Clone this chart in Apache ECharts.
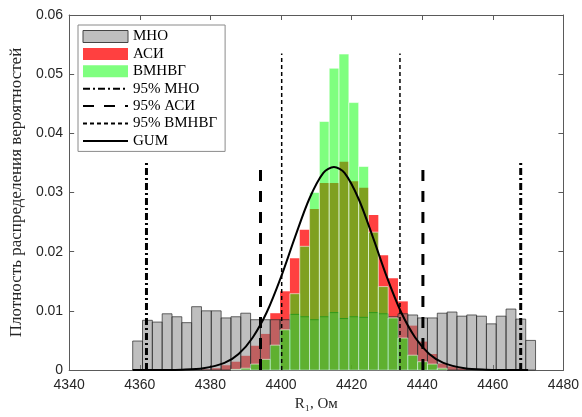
<!DOCTYPE html>
<html><head><meta charset="utf-8">
<script src="https://cdn.jsdelivr.net/npm/echarts@6/dist/echarts.min.js"></script>
<style>html,body{margin:0;padding:0;background:#fff}#c{width:582px;height:417px}</style>
</head><body><div id="c"></div>
<script>
// ---- data ----
const binStart = 4358.0;   // left edge of first histogram bin (Ом)
const binWidth = 2.783;    // bin width (Ом)
const mnoPdf = [0.0049,0.0084,0.0081,0.0095,0.0090,0.0080,0.0107,0.0100,0.0100,0.0088,
  0.0090,0.0096,0.0085,0.0085,0.0085,0.0085,0.0094,0.0090,0.0085,0.0090,
  0.0097,0.0087,0.0090,0.0089,0.0097,0.0095,0.0090,0.0095,0.0093,0.0088,
  0.0088,0.0096,0.0098,0.0091,0.0093,0.0091,0.0078,0.0091,0.0103,0.0086,0.0050];
const asiPdf = [0,0,0,0,0,0,0,0.0001,0.0003,0.0008,
  0.0014,0.0024,0.0041,0.0061,0.0096,0.0133,0.0189,0.0237,0.0272,0.0316,
  0.0316,0.0352,0.0319,0.0308,0.0262,0.0194,0.0155,0.0116,0.0075,0.0048,
  0.0027,0.0011,0.0006,0.0003,0.0001,0,0,0,0,0,0];
const vmnvgPdf = [0,0,0,0,0,0,0,0,0,0,
  0.0001,0.0003,0.0010,0.0018,0.0042,0.0068,0.0129,0.0209,0.0300,0.0420,
  0.0510,0.0534,0.0452,0.0344,0.0233,0.0141,0.0088,0.0054,0.0025,0.0014,
  0.0010,0.0003,0,0,0,0,0,0,0,0,0];
const gumX = [4358,4366,4372,4378,4384,4388,4392,4396,4400,4404,4408,4412,4415,4418,4422,4426,4430,4434,4438,4442,4446,4452,4458,4464,4470];
const gumY = [0,0.00001,0.00006,0.0003,0.0012,0.0027,0.0055,0.0098,0.0157,0.0225,0.0289,0.0333,0.0343,0.0333,0.0289,0.0225,0.0157,0.0098,0.0055,0.0027,0.0012,0.0003,0.00006,0.00001,0];
const ci95MNO = [4361.9, 4467.9];   const ci95MNOTop = 0.0354;
const ci95ASI = [4394.2, 4440.2];   const ci95ASITop = 0.0343;
const ci95VMNVG = [4400.2, 4433.7]; const ci95VMNVGTop = 0.0535;
const xTicks = {min:4340, max:4480, step:20};
const yTicks = {min:0, max:0.06, step:0.01};
const names = ['МНО','АСИ','ВМНВГ','95% МНО','95% АСИ','95% ВМНВГ','GUM'];

// ---- styles ----
const cGray = 'rgba(128,128,128,0.5)';
const cRed = 'rgba(255,0,0,0.75)';
const cGreen = 'rgba(0,255,0,0.5)';

function hist(name, vals, fill, stroke) {
  return {
    type:'custom', name, animation:false, silent:true,
    data: vals.map((v,i)=>[binStart+i*binWidth, binStart+(i+1)*binWidth, v]),
    encode:{x:[0,1], y:2},
    itemStyle:{color:fill},
    renderItem(params, api){
      const v = api.value(2);
      if (!v) return null;
      const p0 = api.coord([api.value(0), v]);
      const p1 = api.coord([api.value(1), 0]);
      return {type:'rect', shape:{x:p0[0], y:p0[1], width:p1[0]-p0[0], height:p1[1]-p0[1]},
        style:{fill, stroke: stroke||null, lineWidth: stroke?1:0}};
    }
  };
}
function vline(name, x, top, ls) {
  return {type:'line', name, symbol:'none', animation:false, silent:true,
    data:[[x,0],[x,top]], lineStyle:ls, itemStyle:{color:'#000'}, z:5};
}
const lsMNO = {color:'#000', width:3, type:[7,3,2,3]};
const lsASI = {color:'#000', width:3, type:[11,10]};
const lsVM = {color:'#000', width:1.5, type:[4,3]};

const series = [
  hist('АСИ', asiPdf, cRed, null),
  hist('МНО', mnoPdf, cGray, 'rgba(40,40,40,0.7)'),
  hist('ВМНВГ', vmnvgPdf, cGreen, 'rgba(255,255,255,0.55)'),
  vline('95% МНО', ci95MNO[0], ci95MNOTop, lsMNO),
  vline('95% МНО', ci95MNO[1], ci95MNOTop, lsMNO),
  vline('95% АСИ', ci95ASI[0], ci95ASITop, lsASI),
  vline('95% АСИ', ci95ASI[1], ci95ASITop, lsASI),
  vline('95% ВМНВГ', ci95VMNVG[0], ci95VMNVGTop, lsVM),
  vline('95% ВМНВГ', ci95VMNVG[1], ci95VMNVGTop, lsVM),
  {type:'line', name:'GUM', symbol:'none', smooth:0.3, animation:false, silent:true, z:6,
   data: gumX.map((x,i)=>[x,gumY[i]]), lineStyle:{color:'#000', width:2}, itemStyle:{color:'#000'}}
];

const axisCol = '#5a5a5a';
const lblFont = {fontFamily:'Liberation Sans', fontSize:14, color:'#262626'};
const noSym = {color:'rgba(0,0,0,0)', borderWidth:0, borderColor:'rgba(0,0,0,0)'};
const chart = echarts.init(document.getElementById('c'), null, {renderer:'canvas'});
chart.setOption({
  animation:false,
  grid:{left:66, right:18, top:15, bottom:40},
  legend:{
    orient:'vertical', left:78, top:25, backgroundColor:'#fff', borderColor:'#8a8a8a', borderWidth:1,
    padding:[4,8,3,4], itemWidth:45, itemHeight:12, itemGap:2.4,
    textStyle:{fontFamily:'Liberation Serif', fontSize:15, lineHeight:15, color:'#000'},
    data: names.map((n,i)=> i===0 ? {name:n, icon:'rect', itemStyle:{color:cGray, borderColor:'#444', borderWidth:1}}
      : i<3 ? {name:n, icon:'rect', itemStyle:{color: i===1?cRed:cGreen, borderWidth:0}}
      : {name:n, itemStyle:noSym})
  },
  xAxis:[
    {type:'value', min:xTicks.min, max:xTicks.max, interval:xTicks.step, position:'bottom',
     name:'R\u2081, Ом', nameLocation:'middle', nameGap:27,
     nameTextStyle:{fontFamily:'Liberation Serif', fontSize:15, color:'#262626'},
     axisLine:{show:true, onZero:false, lineStyle:{color:axisCol}},
     axisTick:{show:true, inside:true, length:5, lineStyle:{color:axisCol}},
     axisLabel:Object.assign({margin:8, formatter:v=>String(v)}, lblFont), splitLine:{show:false}},
    {type:'value', min:xTicks.min, max:xTicks.max, interval:xTicks.step, position:'top',
     axisLine:{show:true, onZero:false, lineStyle:{color:axisCol}},
     axisTick:{show:true, inside:true, length:5, lineStyle:{color:axisCol}},
     axisLabel:{show:false}, splitLine:{show:false}}
  ],
  yAxis:[
    {type:'value', min:yTicks.min, max:yTicks.max, interval:yTicks.step, position:'left',
     name:'Плотность распределения вероятностей', nameLocation:'middle', nameGap:44, nameRotate:90,
     nameTextStyle:{fontFamily:'Liberation Serif', fontSize:17, color:'#262626'},
     axisLine:{show:true, onZero:false, lineStyle:{color:axisCol}},
     axisTick:{show:true, inside:true, length:5, lineStyle:{color:axisCol}},
     axisLabel:Object.assign({margin:6}, lblFont), splitLine:{show:false}},
    {type:'value', min:yTicks.min, max:yTicks.max, interval:yTicks.step, position:'right',
     axisLine:{show:true, onZero:false, lineStyle:{color:axisCol}},
     axisTick:{show:true, inside:true, length:5, lineStyle:{color:axisCol}},
     axisLabel:{show:false}, splitLine:{show:false}}
  ],
  series
});
</script></body></html>
